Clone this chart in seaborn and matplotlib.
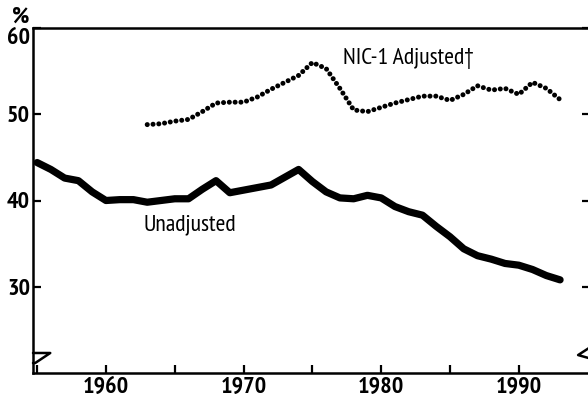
import numpy as np
import pandas as pd
import seaborn as sns
import matplotlib.pyplot as plt
from matplotlib import font_manager

# values (percent)
years_unadj = list(range(1955, 1994))
unadjusted = [44.4, 43.6, 42.6, 42.3, 41.0, 40.0, 40.1, 40.1, 39.8, 40.0,
              40.2, 40.2, 41.3, 42.3, 40.9, 41.2, 41.5, 41.8, 42.7, 43.6,
              42.2, 41.0, 40.3, 40.2, 40.6, 40.3, 39.3, 38.7, 38.3, 37.0,
              35.8, 34.4, 33.6, 33.2, 32.7, 32.5, 32.0, 31.3, 30.8]

years_nic = list(range(1963, 1994))
nic_adjusted = [48.8, 48.9, 49.2, 49.4, 50.3, 51.3, 51.4, 51.4, 52.0, 52.9,
                53.7, 54.5, 56.0, 55.3, 53.0, 50.5, 50.3, 50.8, 51.3, 51.7,
                52.1, 52.1, 51.6, 52.3, 53.3, 52.8, 53.0, 52.3, 53.7, 53.0,
                51.7]

xticks = [1955, 1960, 1965, 1970, 1975, 1980, 1985, 1990]
xlabels = ['', '1960', '', '1970', '', '1980', '', '1990']
yticks = [30, 40, 50, 60]

df_u = pd.DataFrame({'year': years_unadj, 'pct': unadjusted})
df_n = pd.DataFrame({'year': years_nic, 'pct': nic_adjusted})

sns.set_style("ticks")

# look for a narrow / condensed face that also has a bold cut
entries = font_manager.fontManager.ttflist
fams = {}
for f in entries:
    if 'Narrow' in f.name or 'Condensed' in f.name:
        w = f.weight if isinstance(f.weight, int) else 400
        fams.setdefault(f.name, set()).add(w)
family = 'DejaVu Sans'
best = sorted(fams.items(), key=lambda kv: ('Narrow' not in kv[0], max(kv[1]) < 600))
if best:
    family = best[0][0]

plt.rcParams['font.family'] = [family, 'DejaVu Sans']
for k in ['text.color', 'xtick.color', 'ytick.color', 'axes.edgecolor', 'axes.labelcolor']:
    plt.rcParams[k] = 'black'

fig = plt.figure(figsize=(5.88, 4.04), dpi=100)
renderer = fig.canvas.get_renderer()


def fit_size(s, target_px, max_pt, weight='normal'):
    t = fig.text(0, 0, s, fontsize=10, fontweight=weight)
    w = t.get_window_extent(renderer).width
    t.remove()
    return min(max_pt, 10 * target_px / w)


# measured extent runs a bit wider than the drawn digits, hence the factor
tick_fs = fit_size('1960', 37, 19, 'bold') * 1.25
lab_fs = fit_size('Unadjusted', 93, 18, 'medium')

ax = fig.add_axes([33 / 588, 31 / 404, 1 - 33 / 588 + 0.004, (373 - 28) / 404])

sns.lineplot(data=df_u, x='year', y='pct', ax=ax, color='black', lw=5.2,
             solid_capstyle='round', solid_joinstyle='round')
sns.lineplot(data=df_n, x='year', y='pct', ax=ax, color='black', lw=3.6,
             linestyle=(0, (0.01, 1.15)), dash_capstyle='round')

ax.set_xlim(1954.7, 1995.2)
ax.set_ylim(20, 60)
ax.set_xticks(xticks)
ax.set_xticklabels(xlabels)
ax.set_yticks(yticks)
ax.set_xlabel('')
ax.set_ylabel('')

for s in ['left', 'bottom', 'top']:
    ax.spines[s].set_linewidth(1.8)
ax.spines['right'].set_visible(False)
ax.tick_params(axis='both', direction='in', length=6, width=1.6,
               labelsize=tick_fs, pad=3)
ax.tick_params(axis='y', right=True, length=6, pad=2)
for lab in ax.get_xticklabels() + ax.get_yticklabels():
    lab.set_fontweight('bold')
# the top label sits just below the frame line
ax.get_yticklabels()[-1].set_va('top')

# axis break marks
ax.plot([0, 0.031, 0.004, 0], [0.058, 0.058, 0.029, 0.029], color='black',
        lw=1.8, transform=ax.transAxes, clip_on=False)
ax.plot([1.0, 0.978, 1.0], [0.075, 0.052, 0.042], color='black',
        lw=1.8, transform=ax.transAxes, clip_on=False)

ax.text(1962.7, 36.6, 'Unadjusted', fontsize=lab_fs, fontweight='medium',
        ha='left', va='baseline')
ax.text(1977.2, 55.8, 'NIC-1 Adjusted\u2020', fontsize=lab_fs, fontweight='medium',
        ha='left', va='baseline')
fig.text(12 / 588, 1 - 23 / 404, '%', fontsize=tick_fs, fontweight='bold',
         ha='left', va='baseline')

fig.savefig('out.png', dpi=100)
